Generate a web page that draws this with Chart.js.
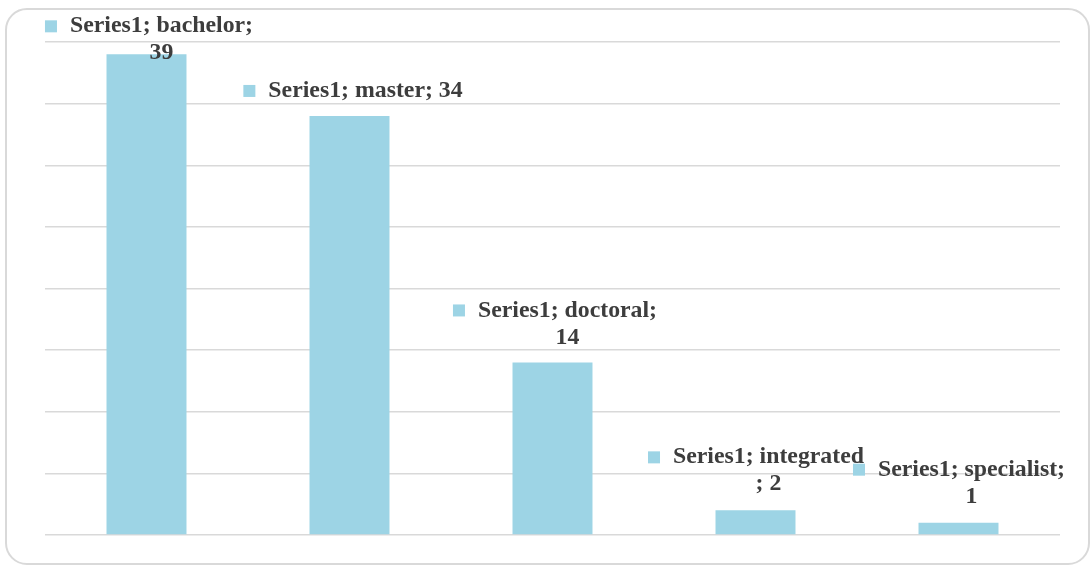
<!DOCTYPE html>
<html lang="en">

<head>
    <meta charset="UTF-8">
    <title>Series1</title>
    <style>
        body {
            margin: 0;
            background: #fff;
        }

        .frame {
            position: relative;
            width: 1090px;
            height: 565px;
        }

        .frame .border {
            position: absolute;
            left: 5px;
            top: 8px;
            width: 1081px;
            height: 553px;
            border: 2px solid #d9d9d9;
            border-radius: 22px;
        }

        canvas {
            position: absolute;
            left: 0;
            top: 0;
        }
    </style>
    <script src="https://cdn.jsdelivr.net/npm/chart.js"></script>
</head>

<body>
    <div class="frame">
        <div class="border"></div>
        <canvas id="myChart" width="1090" height="565"></canvas>
    </div>

    <script>
        var seriesName = 'Series1';
        var categories = ['bachelor', 'master', 'doctoral', 'integrated', 'specialist'];
        var values = [39, 34, 14, 2, 1];

        // where each data label wraps (char index), and its offset from the bar top
        var labelLayout = [
            { wrap: 18, dx: 15, dy: -28 },
            { wrap: null, dx: 16, dy: -25 },
            { wrap: 18, dx: 15, dy: -52 },
            { wrap: 19, dx: 13, dy: -53 },
            { wrap: 20, dx: 13, dy: -53 }
        ];

        var barColor = '#9dd4e5';
        var textColor = '#3d3d3d';

        var dataLabels = {
            id: 'dataLabels',
            afterDatasetsDraw: function (chart) {
                var ctx = chart.ctx;
                var meta = chart.getDatasetMeta(0);
                ctx.save();
                ctx.font = 'bold 23.8px "Liberation Serif", "Times New Roman", serif';
                ctx.textAlign = 'center';
                ctx.textBaseline = 'middle';
                meta.data.forEach(function (bar, i) {
                    var full = seriesName + '; ' + categories[i] + '; ' + values[i];
                    var lay = labelLayout[i];
                    var lines = lay.wrap ? [full.slice(0, lay.wrap).trim(), full.slice(lay.wrap).trim()] : [full];
                    var cx = bar.x + lay.dx;
                    var y1 = bar.y + lay.dy;
                    lines.forEach(function (t, k) {
                        ctx.fillStyle = textColor;
                        ctx.fillText(t, cx, y1 + k * 27);
                    });
                    var w = ctx.measureText(lines[0]).width;
                    ctx.fillStyle = barColor;
                    ctx.fillRect(cx - w / 2 - 25, y1 - 6, 12, 12);
                });
                ctx.restore();
            }
        };

        var ctx = document.getElementById('myChart').getContext('2d');
        var myChart = new Chart(ctx, {
            type: 'bar',
            data: {
                labels: categories,
                datasets: [{
                    label: seriesName,
                    data: values,
                    backgroundColor: barColor,
                    borderWidth: 0,
                    barPercentage: 0.394,
                    categoryPercentage: 1
                }]
            },
            options: {
                responsive: false,
                animation: false,
                layout: {
                    padding: { left: 45, right: 30, top: 42, bottom: 30 }
                },
                plugins: {
                    legend: { display: false },
                    tooltip: { enabled: false }
                },
                scales: {
                    x: { display: false },
                    y: {
                        min: 0,
                        max: 40,
                        ticks: { display: false, stepSize: 5 },
                        border: { display: false },
                        grid: { color: '#d9d9d9', lineWidth: 1.5, drawTicks: false }
                    }
                }
            },
            plugins: [dataLabels]
        });
    </script>
</body>

</html>
